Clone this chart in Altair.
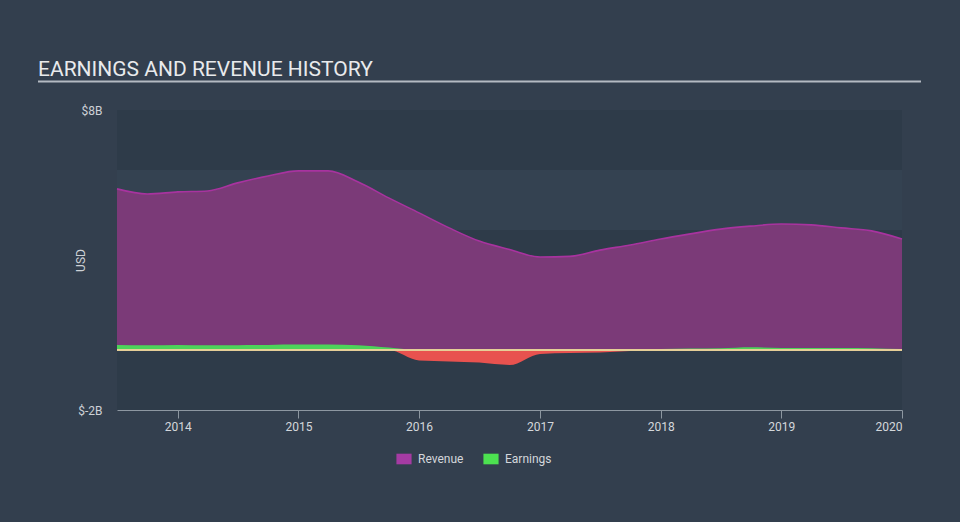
import altair as alt
import pandas as pd

# ---- data (values in $ billions), quarterly from mid-2013 to start of 2020
dates = pd.date_range("2013-07-01", "2020-01-01", freq="QS").strftime("%Y-%m-%d").tolist()
revenue = [5.37, 5.2, 5.27, 5.3, 5.57, 5.8, 5.97, 5.97, 5.6, 5.07, 4.57, 4.07, 3.63, 3.35,
           3.1, 3.12, 3.33, 3.5, 3.7, 3.87, 4.03, 4.13, 4.2, 4.17, 4.07, 3.97, 3.7]
earnings = [0.17, 0.16, 0.17, 0.16, 0.16, 0.17, 0.18, 0.18, 0.16, 0.08, -0.35, -0.38, -0.42, -0.5,
            -0.13, -0.1, -0.08, -0.03, 0.03, 0.05, 0.06, 0.09, 0.07, 0.07, 0.07, 0.06, 0.03]
series_names = ["Revenue", "Earnings"]
series_colors = ["#a53ba3", "#4ce150"]
y_tick_values = [-2, 8]
band_lo = [6, 4, 2, 0, -2]
band_hi = [8, 6, 4, 2, 0]
band_kind = ["dark", "light", "dark", "light", "dark"]
title_text = "EARNINGS AND REVENUE HISTORY"

df = pd.DataFrame({"date": dates, "revenue": revenue, "earnings": earnings})
df["pos"] = df["earnings"].clip(lower=0)
df["neg"] = df["earnings"].clip(upper=0)
df["zero"] = 0.0

W, H = 785, 300
FONT = "Roboto"

x_scale = alt.Scale(domain=["2013-07-01", "2020-01-01"])
y_scale = alt.Scale(domain=[-2, 8], nice=False)

x_enc = alt.X("date:T", scale=x_scale, title=None,
              axis=alt.Axis(values=[alt.DateTime(year=y, month=1, date=1) for y in range(2014, 2021)],
                            format="%Y", grid=False, domainColor="#8d97a1", tickColor="#8d97a1",
                            tickSize=8, labelPadding=3, labelFontSize=12, labelColor="#d3d7db",
                            labelFont=FONT, domainWidth=1))

bands = alt.Chart(pd.DataFrame({"lo": band_lo, "hi": band_hi, "kind": band_kind})).mark_rect().encode(
    x=alt.value(0), x2=alt.value(W),
    y=alt.Y("hi:Q", scale=y_scale, title="USD",
            axis=alt.Axis(values=y_tick_values, labelExpr="'$' + datum.value + 'B'", grid=False,
                          domain=False, ticks=False, labelPadding=15, labelFontSize=12,
                          labelColor="#cdd1d6", labelFont=FONT, titleFont=FONT, titleFontSize=12,
                          titleFontWeight="normal", titleColor="#cdd1d6", titleX=-33, titleY=150,
                          titleAlign="center", titleBaseline="alphabetic")),
    y2="lo:Q",
    color=alt.Color("kind:N", scale=alt.Scale(domain=["dark", "light"], range=["#2e3b49", "#344251"]),
                    legend=None),
)

base = alt.Chart(df)
rev_area = base.mark_area(interpolate="monotone", color="#7b3a78").encode(
    x=x_enc, y=alt.Y("revenue:Q", scale=y_scale), y2="zero:Q")
rev_line = base.mark_line(interpolate="monotone", color="#a8339f", strokeWidth=1.6).encode(
    x="date:T", y=alt.Y("revenue:Q", scale=y_scale))
pos_area = base.mark_area(interpolate="monotone", color="#4dd35a").encode(
    x="date:T", y=alt.Y("pos:Q", scale=y_scale), y2="zero:Q")
neg_area = base.mark_area(interpolate="monotone", color="#e8524f").encode(
    x="date:T", y=alt.Y("neg:Q", scale=y_scale), y2="zero:Q")
zero_line = base.mark_rule(color="#e6cf9a", strokeWidth=1, opacity=0.8).encode(
    y=alt.Y("zero:Q", scale=y_scale), x=alt.value(0), x2=alt.value(W))

legend_layer = alt.Chart(pd.DataFrame({"series": series_names})).mark_square(opacity=0).encode(
    color=alt.Color("series:N", scale=alt.Scale(domain=series_names, range=series_colors),
                    legend=alt.Legend(title=None, orient="none", legendX=279, legendY=341,
                                      direction="horizontal", symbolType="M-1,-0.7L1,-0.7L1,0.7L-1,0.7Z",
                                      symbolSize=230, symbolOpacity=1, symbolStrokeWidth=0,
                                      labelFontSize=12, labelColor="#d3d7db", labelFont=FONT,
                                      columnPadding=19, labelOffset=6)))

title_mark = alt.Chart(pd.DataFrame({"t": [title_text]})).mark_text(
    align="left", baseline="alphabetic", font=FONT, fontSize=21, color="#e8eaec").encode(
    x=alt.value(-79), y=alt.value(-34), text="t:N")
underline = alt.Chart(pd.DataFrame({"t": [title_text]})).mark_rule(color="#b4bac2", strokeWidth=2).encode(
    x=alt.value(-79), x2=alt.value(804), y=alt.value(-28.5))

chart = alt.layer(bands, rev_area, rev_line, pos_area, neg_area, zero_line, legend_layer,
                  title_mark, underline).resolve_scale(color="independent").properties(
    width=W, height=H,
    autosize=alt.AutoSizeParams(type="none"),
    padding={"left": 117, "top": 110, "right": 58, "bottom": 112},
    background="#333f4e",
).configure_view(stroke=None)

chart.save("out.html", embed_options={"renderer": "svg", "actions": False})
